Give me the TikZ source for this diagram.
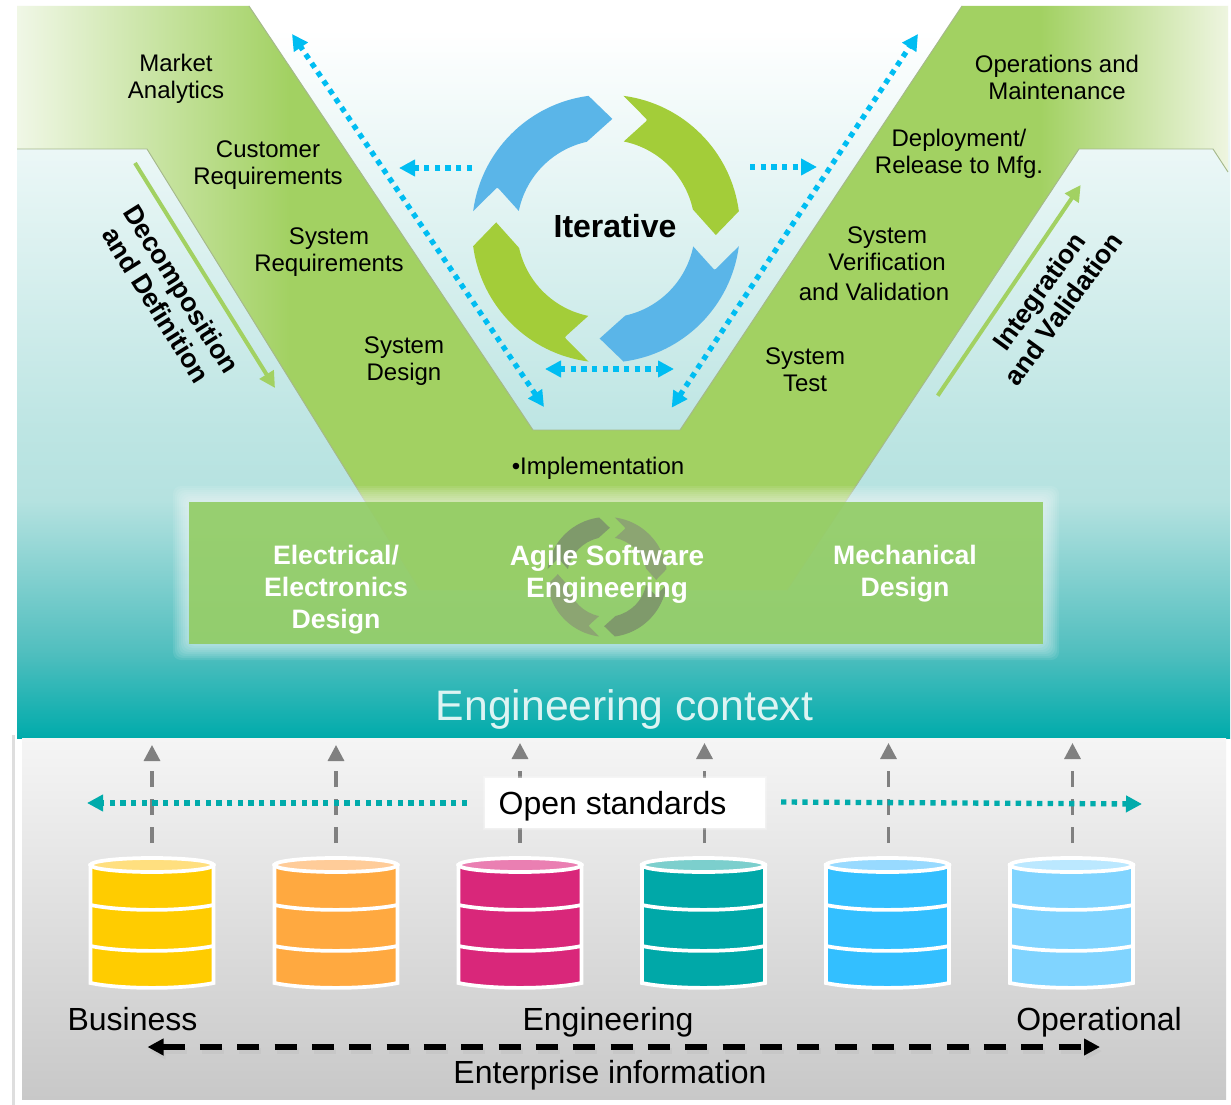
\documentclass[tikz,border=0pt]{standalone}
\usepackage{fontspec}
\setmainfont{Liberation Sans}
\usetikzlibrary{arrows.meta,calc}
\definecolor{bgA}{HTML}{00ABAB}
\definecolor{bgB}{HTML}{52BFBF}
\definecolor{bgC}{HTML}{B5E2E0}
\definecolor{bgD}{HTML}{BDE5E3}
\definecolor{vgreen}{HTML}{A2D162}
\definecolor{vlightL}{HTML}{F0F7E6}
\definecolor{vlightR}{HTML}{EEF5E0}
\definecolor{panelTop}{HTML}{F5F5F5}
\definecolor{panelBot}{HTML}{C8C8C8}
\definecolor{loopblue}{HTML}{5AB5E8}
\definecolor{loopgreen}{HTML}{A3CD39}
\definecolor{dotblue}{HTML}{00BDF2}
\definecolor{iconA}{HTML}{7F9A6B}
\definecolor{iconB}{HTML}{8CA572}
\definecolor{bandgreen}{HTML}{8FCB5E}
\definecolor{ctxtext}{HTML}{DDF4F3}
\definecolor{dbA}{HTML}{FFCC00}\definecolor{dbAl}{HTML}{FFDF7F}
\definecolor{dbB}{HTML}{FFA940}\definecolor{dbBl}{HTML}{FFCC99}
\definecolor{dbC}{HTML}{D9277A}\definecolor{dbCl}{HTML}{EA7FB2}
\definecolor{dbD}{HTML}{00A8A8}\definecolor{dbDl}{HTML}{7CCFCD}
\definecolor{dbE}{HTML}{33BFFF}\definecolor{dbEl}{HTML}{98DAFF}
\definecolor{dbF}{HTML}{80D4FF}\definecolor{dbFl}{HTML}{BBE8FF}
\pgfdeclareverticalshading{bgshade}{100bp}{color(0bp)=(bgA); color(25bp)=(bgA); color(31bp)=(bgB); color(41.26bp)=(bgC); color(46.04bp)=(bgD); color(73.36bp)=(white); color(100bp)=(white)}
\pgfdeclarehorizontalshading{vshade}{100bp}{color(0bp)=(vlightL); color(25bp)=(vlightL); color(36.27bp)=(vgreen); color(67.24bp)=(vgreen); color(75bp)=(vlightR); color(100bp)=(vlightR)}
\pgfdeclareverticalshading{panelshade}{100bp}{color(0bp)=(panelBot); color(25bp)=(panelBot); color(75bp)=(panelTop); color(100bp)=(panelTop)}
\newcommand\loopshape[5]{%
  \begin{scope}[shift={(#1,#2)}]
    \coordinate (lpO) at (#4+187.5:134*#3);
    \coordinate (lpI) at (#4+191.5:89*#3);
    \coordinate (lpN) at (#4+200.9:116.3*#3);
    \fill[#5] (lpO) arc[start angle=#4+187.5,end angle=#4+262.5,radius=134*#3]
      -- (#4+273.3:110*#3) -- (#4+257.5:89*#3)
      arc[start angle=#4+257.5,end angle=#4+191.5,radius=89*#3]
      -- ($(lpI)!0.86!(lpN)$) .. controls (lpN) .. ($(lpO)!0.9!(lpN)$) -- cycle;
  \end{scope}}
\tikzset{
  x=0.75pt,y=-0.75pt,
  label17/.style={font=\fontsize{18}{20.2}\selectfont,align=center,text=black,inner sep=0pt},
  label24/.style={font=\fontsize{24}{28}\selectfont,align=center,text=black,inner sep=0pt},
  whitebold/.style={font=\fontsize{20}{24}\selectfont\bfseries,align=center,text=white,inner sep=0pt},
  sidebold/.style={font=\fontsize{20}{22.5}\selectfont\bfseries,align=center,text=black,inner sep=0pt},
  dotline/.style={draw=dotblue,line width=4pt,dash pattern=on 4pt off 4pt},
  bluetip/.style={dotline,-{Triangle[length=12pt,width=12pt]}},
  bluetwin/.style={dotline,{Triangle[length=12pt,width=12pt]}-{Triangle[length=12pt,width=12pt]}},
  tealtip/.style={draw=bgA,line width=4pt,dash pattern=on 4pt off 4pt,-{Triangle[length=12pt,width=12pt]}},
  grayup/.style={draw=black!50,line width=2.4pt,dash pattern=on 12pt off 9pt,-{Triangle[length=12pt,width=12pt]}},
  flowgreen/.style={draw=vgreen,line width=3pt,-{Triangle[length=12pt,width=12pt]}},
  blacktwin/.style={line width=4pt,dash pattern=on 16.5pt off 11.5pt,{Triangle[length=12pt,width=12pt]}-{Triangle[length=12pt,width=12pt]}},
  vedge/.style={draw=black!35!vgreen!60!white,line width=0.7pt},
  dbline/.style={draw=white,line width=2.8pt},
}
\begin{document}
\begin{tikzpicture}
\useasboundingbox (0,0) rectangle (1231,1105);
\fill[white] (0,0) rectangle (1231,1105);
% background
\shade[shading=bgshade] (17,6) rectangle (1230,738);
% V band
\shade[shading=vshade] (17,6) -- (249,6) -- (533,430) -- (680,430) -- (962,6) -- (1228,6) -- (1228,172) -- (1213,149) -- (1079,149) -- (787,590) -- (420,590) -- (147,149) -- (17,149) -- cycle;
\draw[vedge] (249,6) -- (533,430) -- (680,430) -- (962,6);
\draw[vedge] (17,149) -- (147,149) -- (420,590);
\draw[vedge] (1228,172) -- (1213,149) -- (1079,149) -- (787,590);
% glow + band
\foreach \g in {2,4,...,16}
  \fill[white,opacity=0.085,rounded corners=6pt] (189-\g,502-\g) rectangle (1043+\g,644+\g);
\fill[bandgreen,opacity=0.87] (189,502) rectangle (1043,644);
% small recycle icon
\loopshape{607}{577}{0.448}{0}{iconA}
\loopshape{607}{577}{0.448}{90}{iconB}
\loopshape{607}{577}{0.448}{180}{iconA}
\loopshape{607}{577}{0.448}{270}{iconB}
% large cycle
\loopshape{606}{228.7}{1}{0}{loopblue}
\loopshape{606}{228.7}{1}{90}{loopgreen}
\loopshape{606}{228.7}{1}{180}{loopblue}
\loopshape{606}{228.7}{1}{270}{loopgreen}
% V labels
\node[label17] (market) at (176,79) {Market\\Analytics};
\node[label17] (custreq) at (268,165.5) {Customer\\Requirements};
\node[label17] (sysreq) at (329,252) {System\\Requirements};
\node[label17] (sysdes) at (404,361) {System\\Design};
\node[label17] (impl) at (598,468) {•Implementation};
\node[label17] (systest) at (805,370) {System\\Test};
\node[label17] (sysver) at (887,249) {System\\Verification};
\node[label17] (andval) at (874,292) {and Validation};
\node[label17] (deploy) at (959,153.5) {Deployment/\\Release to Mfg.};
\node[label17] (ops) at (1057,77) {Operations and\\Maintenance};
\node[font=\fontsize{24}{28}\selectfont\bfseries,inner sep=0pt] (iter) at (615,226.5) {Iterative};
% side arrows
\coordinate (dfrom) at (135,163); \coordinate (dto) at (275,388);
\draw[flowgreen] (dfrom) -- (dto);
\coordinate (ifrom) at (937.7,395.7); \coordinate (ito) at (1080.7,185);
\draw[flowgreen] (ifrom) -- (ito);
\node[sidebold,rotate=-58] (decomp) at (169,297) {Decomposition\\and Definition};
\node[sidebold,rotate=54] (integ) at (1051,300) {Integration\\and Validation};
% blue dotted arrows
\coordinate (ba1) at (544,407); \coordinate (ba2) at (292,34);
\draw[bluetwin] (ba1) -- (ba2);
\coordinate (bb1) at (671.7,407.7); \coordinate (bb2) at (918,34);
\draw[bluetwin] (bb1) -- (bb2);
\coordinate (bc1) at (472,168); \coordinate (bc2) at (399,168);
\draw[bluetip] (bc1) -- (bc2);
\coordinate (bd1) at (750,167); \coordinate (bd2) at (817,167);
\draw[bluetip] (bd1) -- (bd2);
\coordinate (be1) at (545,369); \coordinate (be2) at (674,369);
\draw[bluetwin] (be1) -- (be2);
% band labels
\node[whitebold] (elec) at (336,590) {Electrical/\\Electronics\\Design};
\node[whitebold,font=\fontsize{21}{24}\selectfont\bfseries] (agile) at (607,574) {Agile Software\\Engineering};
\node[whitebold] (mech) at (905,574) {Mechanical\\Design};
\node[font=\fontsize{32}{36}\selectfont,text=ctxtext,inner sep=0pt] (ctx) at (624.5,709) {Engineering context};
% panel
\draw[black!13,line width=2pt] (13.5,735) -- (13.5,1105);
\shade[shading=panelshade] (22,738) rectangle (1226,1099);
% gray arrows and cylinders
\foreach \i/\ax/\cx/\tipy/\body/\lite in {1/152/152/745/dbA/dbAl,2/336/336/745/dbB/dbBl,3/520/520/743/dbC/dbCl,4/704.5/703.5/743/dbD/dbDl,5/888.5/887.5/743/dbE/dbEl,6/1072.5/1071.5/743/dbF/dbFl}{
  \coordinate (up\i) at (\ax,843);
  \coordinate (tip\i) at (\ax,\tipy);
  \draw[grayup] (up\i) -- (tip\i);
  \path[fill=\body,dbline] (\cx-61.5,865) -- (\cx-61.5,983) .. controls (\cx-30,989.5) and (\cx+30,989.5) .. (\cx+61.5,983) -- (\cx+61.5,865) -- cycle;
  \draw[dbline] (\cx-61.5,905) .. controls (\cx-30,911.5) and (\cx+30,911.5) .. (\cx+61.5,905);
  \draw[dbline] (\cx-61.5,946) .. controls (\cx-30,952.5) and (\cx+30,952.5) .. (\cx+61.5,946);
  \path[fill=\lite,dbline] (\cx,865) ellipse [x radius=61.5,y radius=7];
}
% teal dotted arrows
\coordinate (tl1) at (467,803); \coordinate (tl2) at (87,803);
\draw[tealtip] (tl1) -- (tl2);
\coordinate (tr1) at (781,802); \coordinate (tr2) at (1142,804);
\draw[tealtip] (tr1) -- (tr2);
% open standards box
\foreach \g in {1,2}
  \fill[white,opacity=0.2] (485-\g,778-\g) rectangle (765+\g,828+\g);
\node[fill=white,minimum width=210pt,minimum height=37.5pt,inner sep=0pt] (openbox) at (625,803) {};
\node[label24] (open) at (612.5,806) {Open standards};
\node[label24] (biz) at (132.5,1019) {Business};
\node[label24] (eng) at (608,1022) {Engineering};
\node[label24] (oper) at (1099,1022) {Operational};
\node[label24] (ent) at (610,1075) {Enterprise information};
% black arrow
\coordinate (k1) at (147.5,1047); \coordinate (k2) at (1100,1047);
\draw[blacktwin,black!22] ([shift={(2,4)}]k1) -- ([shift={(2,4)}]k2);
\draw[blacktwin,black] (k1) -- (k2);
\end{tikzpicture}
\end{document}
